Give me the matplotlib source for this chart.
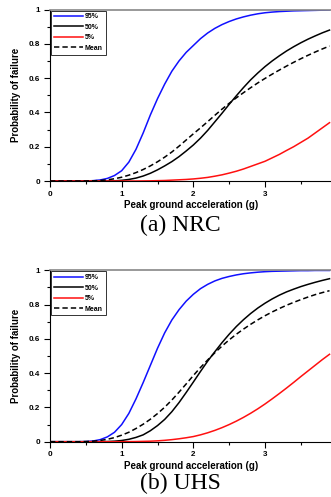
import matplotlib
matplotlib.use("Agg")
import matplotlib.pyplot as plt
from matplotlib.ticker import MultipleLocator, FixedLocator

x = [round(0.1 * i, 1) for i in range(40)]

# (a) NRC
nrc_p95 = [0, 0, 0, 0, 0, 0, 0.002, 0.006, 0.015, 0.032,
           0.06, 0.11, 0.185, 0.28, 0.385, 0.48, 0.565, 0.64, 0.70, 0.75,
           0.79, 0.83, 0.863, 0.89, 0.912, 0.93, 0.945, 0.957, 0.967, 0.975,
           0.981, 0.985, 0.988, 0.990, 0.992, 0.993, 0.994, 0.995, 0.996, 0.997]
nrc_p50 = [0, 0, 0, 0, 0, 0, 0, 0, 0, 0.001,
           0.004, 0.009, 0.017, 0.029, 0.045, 0.065, 0.088, 0.113, 0.142, 0.175,
           0.21, 0.25, 0.295, 0.345, 0.395, 0.447, 0.497, 0.545, 0.59, 0.63,
           0.667, 0.70, 0.73, 0.758, 0.783, 0.806, 0.827, 0.846, 0.864, 0.88]
nrc_p05 = [0, 0, 0, 0, 0, 0, 0, 0, 0, 0,
           0, 0, 0, 0.0005, 0.001, 0.002, 0.003, 0.005, 0.007, 0.009,
           0.012, 0.016, 0.021, 0.028, 0.036, 0.046, 0.057, 0.07, 0.085, 0.10,
           0.115, 0.135, 0.155, 0.178, 0.20, 0.225, 0.25, 0.28, 0.31, 0.34]
nrc_mean = [0, 0, 0, 0, 0, 0, 0.001, 0.003, 0.007, 0.013,
            0.022, 0.034, 0.049, 0.067, 0.088, 0.112, 0.139, 0.169, 0.203, 0.239,
            0.275, 0.31, 0.346, 0.383, 0.419, 0.453, 0.485, 0.515, 0.544, 0.572,
            0.598, 0.623, 0.647, 0.67, 0.692, 0.713, 0.733, 0.752, 0.77, 0.787]

# (b) UHS
uhs_p95 = [0, 0, 0, 0, 0, 0.001, 0.004, 0.012, 0.028, 0.055,
           0.10, 0.165, 0.25, 0.345, 0.445, 0.545, 0.635, 0.71, 0.77, 0.82,
           0.86, 0.893, 0.918, 0.938, 0.953, 0.964, 0.973, 0.98, 0.985, 0.989,
           0.992, 0.994, 0.995, 0.996, 0.997, 0.998, 0.998, 0.999, 0.999, 0.999]
uhs_p50 = [0, 0, 0, 0, 0, 0, 0, 0, 0.001, 0.003,
           0.007, 0.014, 0.025, 0.04, 0.064, 0.094, 0.13, 0.175, 0.228, 0.287,
           0.348, 0.41, 0.47, 0.525, 0.578, 0.627, 0.672, 0.712, 0.748, 0.78,
           0.808, 0.833, 0.855, 0.874, 0.89, 0.905, 0.918, 0.93, 0.941, 0.951]
uhs_p05 = [0, 0, 0, 0, 0, 0, 0, 0, 0, 0,
           0, 0.0005, 0.001, 0.002, 0.003, 0.005, 0.008, 0.012, 0.017, 0.023,
           0.03, 0.04, 0.052, 0.066, 0.082, 0.10, 0.12, 0.142, 0.166, 0.192,
           0.22, 0.25, 0.281, 0.313, 0.346, 0.38, 0.413, 0.446, 0.479, 0.51]
uhs_mean = [0, 0, 0, 0, 0, 0.001, 0.003, 0.007, 0.014, 0.024,
            0.038, 0.055, 0.077, 0.102, 0.131, 0.164, 0.201, 0.243, 0.289, 0.337,
            0.386, 0.433, 0.477, 0.519, 0.558, 0.594, 0.627, 0.657, 0.685, 0.711,
            0.735, 0.757, 0.777, 0.796, 0.813, 0.829, 0.844, 0.858, 0.87, 0.881]

labels = ["95%", "50%", "5%", "Mean"]
captions = ["(a) NRC", "(b) UHS"]
xticks = [0, 1, 2, 3]
yticks = [0, 0.2, 0.4, 0.6, 0.8, 1]
ytick_labels = ["0", "0.2", "0.4", "0.6", "0.8", "1"]

panels = [(nrc_p95, nrc_p50, nrc_p05, nrc_mean),
          (uhs_p95, uhs_p50, uhs_p05, uhs_mean)]

W, H = 331, 497
fig = plt.figure(figsize=(W / 100, H / 100), dpi=100)
plt.rcParams['font.family'] = ['Liberation Sans', 'DejaVu Sans']

ax_boxes = [(50, 9.5, 181), (50, 270.3, 441.7)]
cap_y = [225, 483]

for k, (series, (left, top, bot)) in enumerate(zip(panels, ax_boxes)):
    ax = fig.add_axes([left / W, (H - bot) / H, (W - left) / W + 0.002, (bot - top) / H])
    p95, p50, p05, pm = series
    ax.plot(x, p95, color="#1010ff", lw=1.1, label=labels[0])
    ax.plot(x, p50, color="black", lw=1.1, label=labels[1])
    ax.plot(x, p05, color="#ff1010", lw=1.1, label=labels[2])
    ax.plot(x, pm, color="black", lw=1.1, ls=(0, (3.5, 2)), label=labels[3])
    ax.set_xlim(0, 3.93)
    ax.set_ylim(0, 1)
    ax.xaxis.set_major_locator(FixedLocator(xticks))
    ax.xaxis.set_minor_locator(MultipleLocator(0.5))
    ax.yaxis.set_major_locator(FixedLocator(yticks))
    ax.yaxis.set_minor_locator(MultipleLocator(0.1))
    ax.set_xticklabels([str(t) for t in xticks])
    ax.set_yticklabels(ytick_labels)
    ax.tick_params(which="major", direction="out", length=4, width=0.8, labelsize=5.8, pad=3)
    ax.tick_params(which="minor", direction="out", length=2.5, width=0.8)
    for lab in ax.get_xticklabels() + ax.get_yticklabels():
        lab.set_fontweight("bold")
    ax.spines["right"].set_visible(False)
    ax.spines["top"].set_color("#888888")
    ax.spines["top"].set_linewidth(1.2)
    ax.spines["left"].set_linewidth(0.8)
    ax.spines["bottom"].set_linewidth(0.8)
    ax.set_xlabel("Peak ground acceleration (g)", fontsize=7, fontweight="bold", labelpad=2)
    ax.set_ylabel("Probability of failure", fontsize=7, fontweight="bold", labelpad=6)
    leg = ax.legend(loc="upper left", bbox_to_anchor=(0, 1), fontsize=5, frameon=True,
                    fancybox=False, edgecolor="black", borderaxespad=0.15,
                    handlelength=4.2, handletextpad=0.25, labelspacing=0.5,
                    borderpad=0.4, markerfirst=True)
    leg.get_frame().set_linewidth(0.7)
    for t in leg.get_texts():
        t.set_fontweight("bold")
    fig.text(180 / W, 1 - cap_y[k] / H, captions[k], ha="center", va="center",
             fontsize=17, family=["Liberation Serif", "DejaVu Serif"])

fig.savefig("out.png", dpi=100)
